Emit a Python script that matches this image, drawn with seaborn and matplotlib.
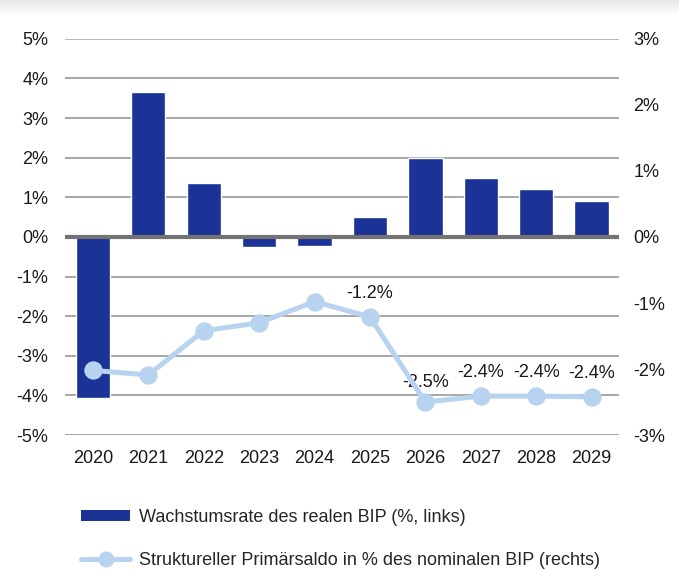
import numpy as np
import pandas as pd
import seaborn as sns
import matplotlib.pyplot as plt
from matplotlib.lines import Line2D
from matplotlib.patches import Patch

# data
years = ['2020', '2021', '2022', '2023', '2024', '2025', '2026', '2027', '2028', '2029']
growth = [-4.07, 3.66, 1.36, -0.25, -0.23, 0.5, 2.0, 1.49, 1.21, 0.91]
primary = [-2.02, -2.09, -1.42, -1.30, -0.98, -1.21, -2.50, -2.41, -2.41, -2.42]
label_years = ['2025', '2026', '2027', '2028', '2029']

bar_label = 'Wachstumsrate des realen BIP (%, links)'
line_label = 'Struktureller Primärsaldo in % des nominalen BIP (rechts)'

bar_color = '#1b3396'
line_color = '#b7d3f0'
grid_color = '#8f8f8f'
text_color = '#1a1a1a'

df = pd.DataFrame({'year': years, 'growth': growth, 'primary': primary})

sns.set_style('white')
plt.rcParams['font.family'] = ['Liberation Sans', 'DejaVu Sans']
plt.rcParams['font.size'] = 13

fig = plt.figure(figsize=(6.79, 5.71), dpi=100)

# faint shadow band along the top edge
band = fig.add_axes([0, 1 - 16 / 571, 1, 16 / 571])
band.imshow(np.linspace(0.90, 1.0, 16).reshape(-1, 1), cmap='gray',
            vmin=0, vmax=1, aspect='auto')
band.axis('off')

ax = fig.add_axes([0.096, 0.238, 0.816, 0.694])

sns.barplot(data=df, x='year', y='growth', color=bar_color, width=0.62,
            saturation=1, ax=ax, zorder=3)
ax.set_ylim(-5, 5)
ax.set_yticks(np.arange(-5, 6, 1))
ax.set_yticklabels([f'{v}%' for v in range(-5, 6)])
for v in range(-5, 6):
    if v == 5:
        ax.axhline(v, color='#b8b8b8', lw=1.4, zorder=1)
    elif v != 0:
        ax.axhline(v, color=grid_color, lw=1.1, zorder=1)
ax.axhline(0, color='#737373', lw=3, zorder=4)

ax2 = ax.twinx()
sns.pointplot(data=df, x='year', y='primary', color=line_color, ax=ax2,
              markers='o', markersize=10.5, linewidth=3.6, zorder=5)
ax2.set_ylim(-3, 3)
ax2.set_yticks(np.arange(-3, 4, 1))
ax2.set_yticklabels([f'{v}%' for v in range(-3, 4)])
ax.set_xlim(-0.5, len(years) - 0.5)
ax2.set_xlim(-0.5, len(years) - 0.5)

for i, (yr, val) in enumerate(zip(years, primary)):
    if yr in label_years:
        dy = 8 if yr == '2026' else 11
        ax2.annotate(f'{val:.1f}%', (i, val), xytext=(0, dy),
                     textcoords='offset points', ha='center', va='bottom',
                     fontsize=13, color=text_color)

for a in (ax, ax2):
    for s in a.spines.values():
        s.set_visible(False)
    a.set_xlabel('')
    a.set_ylabel('')
ax.tick_params(axis='y', length=0, pad=12, labelsize=13, labelcolor=text_color)
ax2.tick_params(axis='y', length=0, pad=10, labelsize=13, labelcolor=text_color)
ax.tick_params(axis='x', length=0, pad=11, labelsize=13, labelcolor=text_color)
ax2.set_zorder(ax.get_zorder() + 1)
ax2.patch.set_visible(False)

handles = [
    Patch(facecolor=bar_color, edgecolor='none'),
    Line2D([0], [0], color=line_color, lw=3.6, marker='o', markersize=10.5),
]
fig.legend(handles, [bar_label, line_label], loc='upper left',
           bbox_to_anchor=(0.096, 0.137), frameon=False, fontsize=13,
           handlelength=2.7, handletextpad=0.5, labelspacing=1.45,
           handleheight=0.55)

fig.savefig('out.png', dpi=100)
